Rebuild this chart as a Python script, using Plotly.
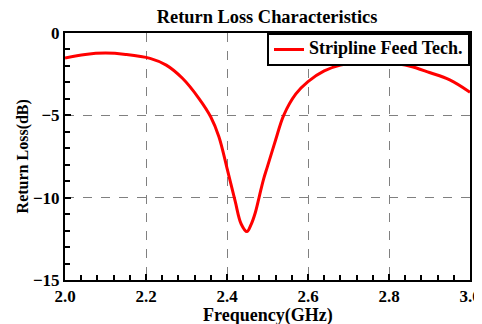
import plotly.graph_objects as go

freq = [2.0, 2.05, 2.1, 2.15, 2.21, 2.25, 2.29, 2.33, 2.36, 2.38, 2.4, 2.42, 2.435, 2.449,
        2.46, 2.47, 2.48, 2.49, 2.5, 2.52, 2.54, 2.57, 2.6, 2.64, 2.68, 2.72, 2.76, 2.8, 2.85, 2.9, 2.95, 3.0]
rl = [-1.52, -1.3, -1.22, -1.3, -1.54, -1.95, -2.75, -3.95, -5.1, -6.3, -8.2, -10.2, -11.6, -12.06,
      -11.6, -10.9, -9.9, -8.9, -8.1, -6.5, -5.0, -3.7, -2.95, -2.3, -1.95, -1.82, -1.78, -1.82, -2.0, -2.4, -2.85, -3.6]
series_name = "Stripline Feed Tech."
x_title = "Frequency(GHz)"
y_title = "Return Loss(dB)"
chart_title = "Return Loss Characteristics"

font = "Liberation Serif"
fig = go.Figure()
fig.add_trace(go.Scatter(x=freq, y=rl, mode="lines",
                         name=f"<span style='font-size:18px'><b>{series_name}</b></span>",
                         line=dict(color="#ff0000", width=3, shape="spline", smoothing=1.0)))

# page body has an 8px margin, so the figure is 8px smaller than the window
fig.update_layout(
    width=474, height=316,
    margin=dict(l=57, r=12, t=25, b=44),
    plot_bgcolor="white", paper_bgcolor="white",
    font=dict(family=font, color="black", size=17),
    title=dict(text=f"<b>{chart_title}</b>", x=0.5465, xanchor="center",
               y=0.972, yanchor="middle", font=dict(family=font, size=18.4)),
    showlegend=True,
    legend=dict(x=1, xanchor="right", y=1, yanchor="top", bgcolor="white",
                bordercolor="black", borderwidth=2, font=dict(family=font, size=12),
                itemwidth=30, tracegroupgap=0),
)
common = dict(showline=True, linecolor="black", linewidth=2, mirror=True,
              ticks="inside", ticklen=6, tickcolor="black", tickwidth=2,
              showgrid=True, gridcolor="#808080", griddash="dash", gridwidth=1,
              tickfont=dict(family=font, size=17), zeroline=False, automargin=False)
fig.update_xaxes(range=[2.0, 3.0], dtick=0.2, tickformat=".1f",
                 minor=dict(ticks="inside", dtick=0.04, ticklen=5, tickcolor="black", tickwidth=2, showgrid=False),
                 tickprefix="<b>", ticksuffix="</b>", **common)
fig.update_yaxes(range=[-15, 0], dtick=5,
                 minor=dict(ticks="inside", dtick=1, ticklen=5, tickcolor="black", tickwidth=2, showgrid=False),
                 tickprefix="<b>", ticksuffix="</b>", **common)
fig.add_annotation(text=f"<b>{x_title}</b>", xref="paper", yref="paper", x=0.5, y=-0.145,
                   xanchor="center", yanchor="middle", showarrow=False,
                   font=dict(family=font, size=18))
fig.add_annotation(text=f"<b>{y_title}</b>", xref="paper", yref="paper", x=-0.104, y=0.5,
                   xanchor="center", yanchor="middle", textangle=-90, showarrow=False,
                   font=dict(family=font, size=16))
fig.write_html("out.html")
